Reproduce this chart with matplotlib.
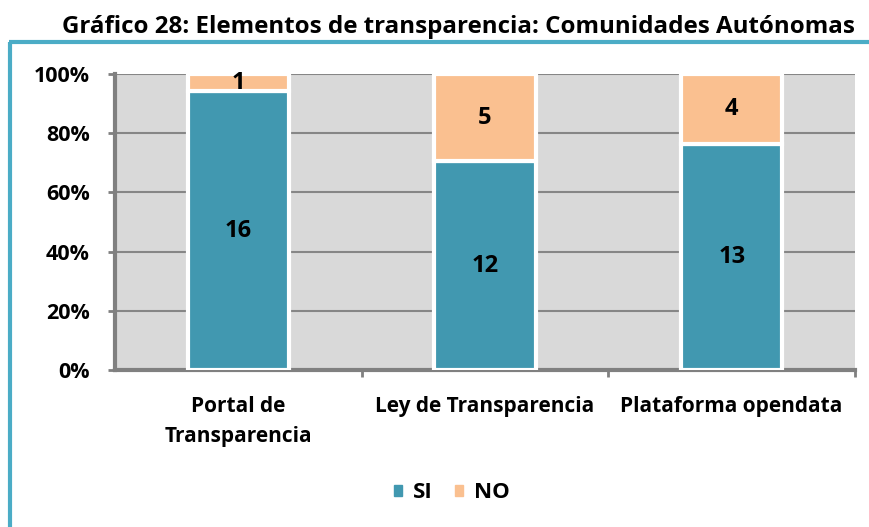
import matplotlib
matplotlib.use("Agg")
import matplotlib.pyplot as plt
from matplotlib.patches import Rectangle
from matplotlib.lines import Line2D
import numpy as np

categories = ["Portal de\nTransparencia", "Ley de Transparencia", "Plataforma opendata"]
si_values = [16, 12, 13]
no_values = [1, 5, 4]
yticks = [0, 20, 40, 60, 80, 100]
title = "Gráfico 28: Elementos de transparencia: Comunidades Autónomas"

plt.rcParams['font.family'] = ['Open Sans', 'DejaVu Sans']

fig = plt.figure(figsize=(8.7, 5.27), dpi=100)
fig.patch.set_facecolor("white")

# outer frame lines (light blue)
fig.add_artist(Line2D([10/870, 10/870], [0, 1 - 42/527], transform=fig.transFigure,
                      color="#4bacc6", lw=3, solid_capstyle="butt"))
fig.add_artist(Line2D([9/870, 1], [1 - 42/527, 1 - 42/527], transform=fig.transFigure,
                      color="#4bacc6", lw=3, solid_capstyle="butt"))

fig.text(62/870, 1 - 27/527, title, fontsize=17.4, fontweight="bold", ha="left", va="center")

ax = fig.add_axes([115/870, 1 - 370/527, 740/870, 296/527])
ax.set_facecolor("#d9d9d9")

si = np.array(si_values, dtype=float)
no = np.array(no_values, dtype=float)
tot = si + no
si_pct = si / tot * 100
no_pct = no / tot * 100
x = np.arange(len(categories))

ax.bar(x, si_pct, width=0.41, color="#4198b0", edgecolor="white", linewidth=3, zorder=3)
ax.bar(x, no_pct, bottom=si_pct, width=0.41, color="#fac090", edgecolor="white", linewidth=3, zorder=3)

for i in range(len(x)):
    ax.text(x[i], si_pct[i] / 2, str(si_values[i]), ha="center", va="center",
            fontsize=17, fontweight="bold", zorder=4)
    ax.text(x[i], si_pct[i] + no_pct[i] / 2, str(no_values[i]), ha="center", va="center",
            fontsize=17, fontweight="bold", zorder=4)

ax.set_xlim(-0.5, 2.5)
ax.set_ylim(0, 100)
ax.set_yticks(yticks)
ax.set_yticklabels([f"{v}%" for v in yticks], fontsize=15.5, fontweight="bold")
ax.yaxis.grid(True, color="#868686", lw=1.5, zorder=1)
ax.set_axisbelow(True)

ax.set_xticks(x)
ax.set_xticklabels(categories, fontsize=15, fontweight="bold", linespacing=1.55)
ax.set_xticks([0.5, 1.5, 2.5], minor=True)
ax.tick_params(axis="x", which="major", length=0, pad=19)
ax.tick_params(axis="x", which="minor", length=5, width=2, color="#808080")
ax.tick_params(axis="y", length=5, width=2, color="#808080", pad=13)

for s in ["top", "right"]:
    ax.spines[s].set_visible(False)
for s in ["left", "bottom"]:
    ax.spines[s].set_color("#808080")
    ax.spines[s].set_linewidth(3)

handles = [Rectangle((0, 0), 1, 1, color="#4198b0"), Rectangle((0, 0), 1, 1, color="#fac090")]
fig.legend(handles, ["SI", "NO"], loc="center", bbox_to_anchor=(452/870, 1 - 493/527),
           ncol=2, frameon=False, prop={"weight": "bold", "size": 16},
           handlelength=0.35, handleheight=0.35, handletextpad=0.5, columnspacing=1.0)

fig.savefig("out.png", dpi=100)
